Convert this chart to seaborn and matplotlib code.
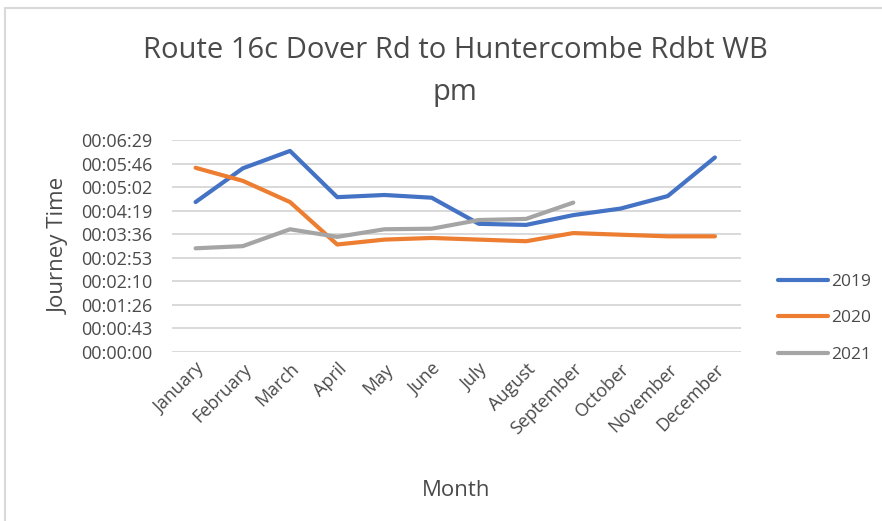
import matplotlib
matplotlib.use('Agg')
import matplotlib.pyplot as plt
import matplotlib.lines as mlines
import seaborn as sns
import pandas as pd

# ── Data (journey time in seconds) ───────────────────────────────────────────
months = ['January', 'February', 'March', 'April', 'May', 'June', 'July',
          'August', 'September', 'October', 'November', 'December']
t2019 = [275, 337, 369, 284, 288, 283, 235, 233, 251, 263, 286, 357]
t2020 = [338, 314, 275, 197, 206, 209, 206, 203, 218, 215, 212, 212]
t2021 = [190, 194, 225, 211, 225, 226, 242, 244, 274]
years = ['2019', '2020', '2021']
tick_secs = [0, 43.2, 86.4, 129.6, 172.8, 216, 259.2, 302.4, 345.6, 388.8]

rows = []
for yr, vals in zip(years, [t2019, t2020, t2021]):
    for i, v in enumerate(vals):
        rows.append({'Month': months[i], 'idx': i, 'secs': v, 'Year': yr})
df = pd.DataFrame(rows)

colors = {'2019': '#4472C4', '2020': '#ED7D31', '2021': '#A5A5A5'}
txt = '#4a4a4a'

sns.set_style('white')
plt.rcParams['font.family'] = ['Open Sans', 'DejaVu Sans']

fig = plt.figure(figsize=(8.82, 5.21), dpi=100)
ax = fig.add_axes([0.195, 0.325, 0.645, 0.406])

sns.lineplot(data=df, x='idx', y='secs', hue='Year', palette=colors,
             linewidth=3, legend=False, ax=ax, solid_capstyle='round')

def fmt(s, _):
    s = int(round(s))
    return f'{s // 3600:02d}:{(s % 3600) // 60:02d}:{s % 60:02d}'

ax.set_ylim(0, 388.8)
ax.set_yticks(tick_secs)
ax.yaxis.set_major_formatter(plt.FuncFormatter(fmt))
ax.set_xlim(-0.5, 11.55)
ax.set_xticks(range(len(months)))
ax.set_xticklabels(months, rotation=45, ha='right', rotation_mode='anchor')
ax.tick_params(axis='both', length=0, labelsize=13, colors=txt)
ax.tick_params(axis='y', pad=14)
ax.tick_params(axis='x', pad=6)
ax.grid(axis='y', color='#D9D9D9', linewidth=1.4)
ax.set_axisbelow(True)
for sp in ax.spines.values():
    sp.set_visible(False)

ax.set_xlabel('Month', fontsize=16, color=txt, labelpad=30)
ax.set_ylabel('Journey Time', fontsize=16, color=txt, labelpad=8)

fig.text(0.516, 0.862, 'Route 16c Dover Rd to Huntercombe Rdbt WB\npm',
         ha='center', va='center', fontsize=21, color=txt, linespacing=1.6)

handles = [mlines.Line2D([], [], color=colors[y], linewidth=3, solid_capstyle='round')
           for y in years]
fig.legend(handles, years, loc='center left', bbox_to_anchor=(0.864, 0.389),
           frameon=False, fontsize=12.5, labelcolor=txt, handlelength=2.9,
           handletextpad=0.2, labelspacing=1.17)

# light chart-area border (left and top edges visible in the reference)
fig.add_artist(mlines.Line2D([0.006, 0.006], [0, 0.985], transform=fig.transFigure,
                             color='#D9D9D9', linewidth=1.5))
fig.add_artist(mlines.Line2D([0.006, 1], [0.985, 0.985], transform=fig.transFigure,
                             color='#D9D9D9', linewidth=1.5))

plt.savefig('out.png', dpi=100)
plt.close()
